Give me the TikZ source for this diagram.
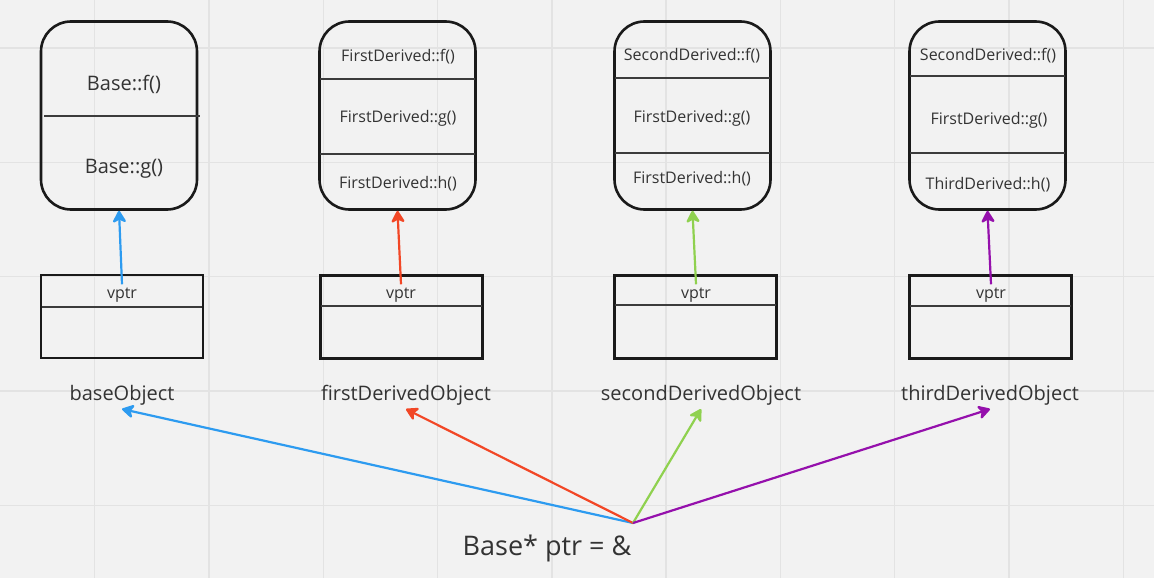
\documentclass[tikz,border=0pt]{standalone}
\usepackage{fontspec}
\setmainfont{Open Sans}
\usetikzlibrary{arrows.meta}
\usetikzlibrary{calc}
\usetikzlibrary{positioning}

\definecolor{bgcol}{HTML}{F2F2F2}
\definecolor{gridcol}{HTML}{E3E3E3}
\definecolor{inkcol}{HTML}{1A1A1A}
\definecolor{txtcol}{HTML}{333333}
\definecolor{bluecol}{HTML}{2D9BF0}
\definecolor{redcol}{HTML}{F24726}
\definecolor{greencol}{HTML}{8FD14F}
\definecolor{purplecol}{HTML}{9510AC}

\begin{document}
\begin{tikzpicture}[x=1pt, y=-1pt,
    vtable/.style={draw=inkcol, line width=2.6pt, rounded corners=30pt, minimum width=156pt, minimum height=188pt},
    objbox/.style={draw=inkcol, line width=2.6pt, minimum width=162pt, minimum height=83pt},
    sep/.style={draw=inkcol!85, line width=2.2pt},
    entry/.style={text=txtcol, font=\fontsize{16}{19}\selectfont},
    bigentry/.style={text=txtcol, font=\fontsize{20}{24}\selectfont},
    objname/.style={text=txtcol, font=\fontsize{20}{24}\selectfont},
    ptrarrow/.style={line width=2.2pt, -{Stealth[length=14pt,width=16pt,inset=4pt,round]}}]

    \useasboundingbox (0,0) rectangle (1154,578);
    \fill[bgcol] (0,0) rectangle (1154,578);
    \foreach \i in {0,...,9} {
        \draw[gridcol, line width=1.4pt] (94.6+114.3*\i,0) -- (94.6+114.3*\i,578);
    }
    \foreach \j in {0,...,4} {
        \draw[gridcol, line width=1.4pt] (0,48+114.3*\j) -- (1154,48+114.3*\j);
    }

    % vtables
    \node[vtable] (vt0) at (119,115.5) {};
    \draw[sep] (44,116) -- (200,116);
    \node[bigentry] (vt0f) at (124,84) {Base::f()};
    \node[bigentry] (vt0g) at (124,168.5) {Base::g()};

    \node[vtable] (vt1) at (397.5,115.5) {};
    \draw[sep] (320,79) -- (475,79);
    \draw[sep] (320,154) -- (475,154);
    \node[entry] (vt1f) at (398,57) {FirstDerived::f()};
    \node[entry] (vt1g) at (398,118.5) {FirstDerived::g()};
    \node[entry] (vt1h) at (398,184) {FirstDerived::h()};

    \node[vtable] (vt2) at (692.5,115.5) {};
    \draw[sep] (615,78) -- (770,78);
    \draw[sep] (615,153) -- (770,153);
    \node[entry] (vt2f) at (692,56) {SecondDerived::f()};
    \node[entry] (vt2g) at (692,118.5) {FirstDerived::g()};
    \node[entry] (vt2h) at (692,179) {FirstDerived::h()};

    \node[vtable] (vt3) at (987.5,115.5) {};
    \draw[sep] (910,76) -- (1065,76);
    \draw[sep] (910,153) -- (1065,153);
    \node[entry] (vt3f) at (988,56) {SecondDerived::f()};
    \node[entry] (vt3g) at (989,120) {FirstDerived::g()};
    \node[entry] (vt3h) at (988,185) {ThirdDerived::h()};

    % objects
    \node[objbox] (ob0) at (122,316.5) {};
    \draw[sep] (42,307) -- (202,307);
    \node[entry] (vp0) at (122,295) {vptr};
    \node[objname] (on0) at (122,395.5) {baseObject};

    \node[objbox] (ob1) at (401.5,317) {};
    \draw[sep] (321,306) -- (482,306);
    \node[entry] (vp1) at (401,295) {vptr};
    \node[objname] (on1) at (406,395.5) {firstDerivedObject};

    \node[objbox] (ob2) at (695.5,317) {};
    \draw[sep] (615,305) -- (776,305);
    \node[entry] (vp2) at (696,295) {vptr};
    \node[objname] (on2) at (701,395.5) {secondDerivedObject};

    \node[objbox] (ob3) at (990.5,317) {};
    \draw[sep] (910,306) -- (1071,306);
    \node[entry] (vp3) at (991,295) {vptr};
    \node[objname] (on3) at (990,395.5) {thirdDerivedObject};

    \draw[ptrarrow, bluecol] (vp0.north) -- (vt0.south);
    \draw[ptrarrow, redcol] (vp1.north) -- (vt1.south);
    \draw[ptrarrow, greencol] (vp2.north) -- (vt2.south);
    \draw[ptrarrow, purplecol] (vp3.north) -- (vt3.south);

    % pointer
    \node[text=txtcol, font=\fontsize{27}{32}\selectfont] (ptr) at (547,548) {Base* ptr = \&};
    \coordinate (src) at (633,523);
    \draw[ptrarrow, bluecol] (src) -- (on0.south);
    \draw[ptrarrow, redcol] (src) -- (on1.south);
    \draw[ptrarrow, greencol] (src) -- (on2.south);
    \draw[ptrarrow, purplecol] (src) -- (on3.south);
\end{tikzpicture}
\end{document}
